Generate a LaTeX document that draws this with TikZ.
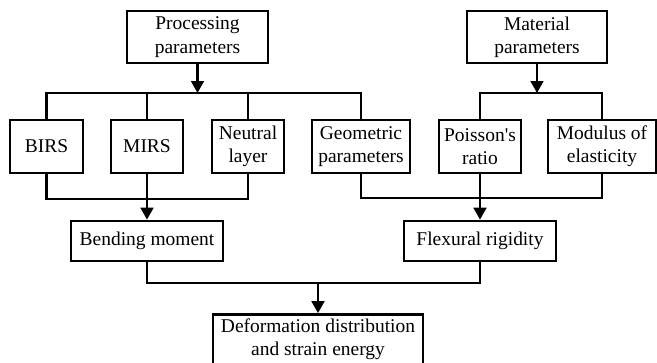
\documentclass[tikz,border=0pt]{standalone}
\usepackage{fontspec}
\setmainfont{Liberation Serif}
\usetikzlibrary{
    positioning,
    arrows.meta
}
\tikzset{
    >={Triangle[length=9pt,width=9.5pt]},
    caja/.style={
        draw,
        line width=2pt,
        inner sep=2pt,
        align=center,
        font=\fontsize{14.6}{17.5}\selectfont
    },
    linea/.style={
        line width=2pt
    }
}

\begin{document}
\begin{tikzpicture}[
    x=0.75pt,
    y=-0.75pt
]

    \useasboundingbox (0,0) rectangle (657,362);

    % Cajas
    \node[caja, minimum width=105.75pt, minimum height=39pt]
        (pp) at (197.5,37)  {Processing\\parameters};
    \node[caja, minimum width=105pt, minimum height=39pt]
        (mp) at (537,37)    {Material\\parameters};

    \node[caja, minimum width=54.75pt, minimum height=39.75pt]
        (birs) at (46.5,146.5) {BIRS};
    \node[caja, minimum width=54pt, minimum height=39.75pt]
        (mirs) at (147,146.5)  {MIRS};
    \node[caja, minimum width=54pt, minimum height=39.75pt]
        (nl) at (248,146.5)    {Neutral\\layer};
    \node[caja, minimum width=73.5pt, minimum height=39.75pt]
        (gp) at (361,146.5)    {Geometric\\parameters};
    \node[caja, minimum width=61.5pt, minimum height=39.75pt]
        (pr) at (480,146.5)    {Poisson\textquotesingle s\\ratio};
    \node[caja, minimum width=81pt, minimum height=39.75pt]
        (me) at (602,146.5)    {Modulus of\\elasticity};

    \node[caja, minimum width=114pt, minimum height=30pt]
        (bm) at (147,241)   {Bending moment};
    \node[caja, minimum width=114pt, minimum height=30pt]
        (fr) at (480,241)   {Flexural rigidity};

    \node[caja, minimum width=157.5pt, minimum height=37.5pt]
        (de) at (318,339.5) {Deformation distribution\\and strain energy};

    % Puntos de union
    \coordinate (tp) at (197.5,93);
    \coordinate (tm) at (537,93);
    \coordinate (ub) at (147,199);
    \coordinate (uf) at (480,198);
    \coordinate (ud) at (318,283);

    % Conexiones
    \draw[linea, ->] (pp) -- (tp);
    \draw[linea] (birs.north) |- (tp) -| (gp.north);
    \draw[linea] (mirs.north) -- (mirs.north |- tp);
    \draw[linea] (nl.north) -- (nl.north |- tp);

    \draw[linea, ->] (mp) -- (tm);
    \draw[linea] (pr.north) |- (tm) -| (me.north);

    \draw[linea] (birs.south) |- (ub) -| (nl.south);
    \draw[linea] (mirs.south) -- (ub);
    \draw[linea, ->] (ub) -- (bm.north);

    \draw[linea] (gp.south) |- (uf) -| (me.south);
    \draw[linea] (pr.south) -- (uf);
    \draw[linea, ->] (uf) -- (fr.north);

    \draw[linea] (bm.south) |- (ud) -| (fr.south);
    \draw[linea, ->] (ud) -- (de.north);

\end{tikzpicture}
\end{document}
